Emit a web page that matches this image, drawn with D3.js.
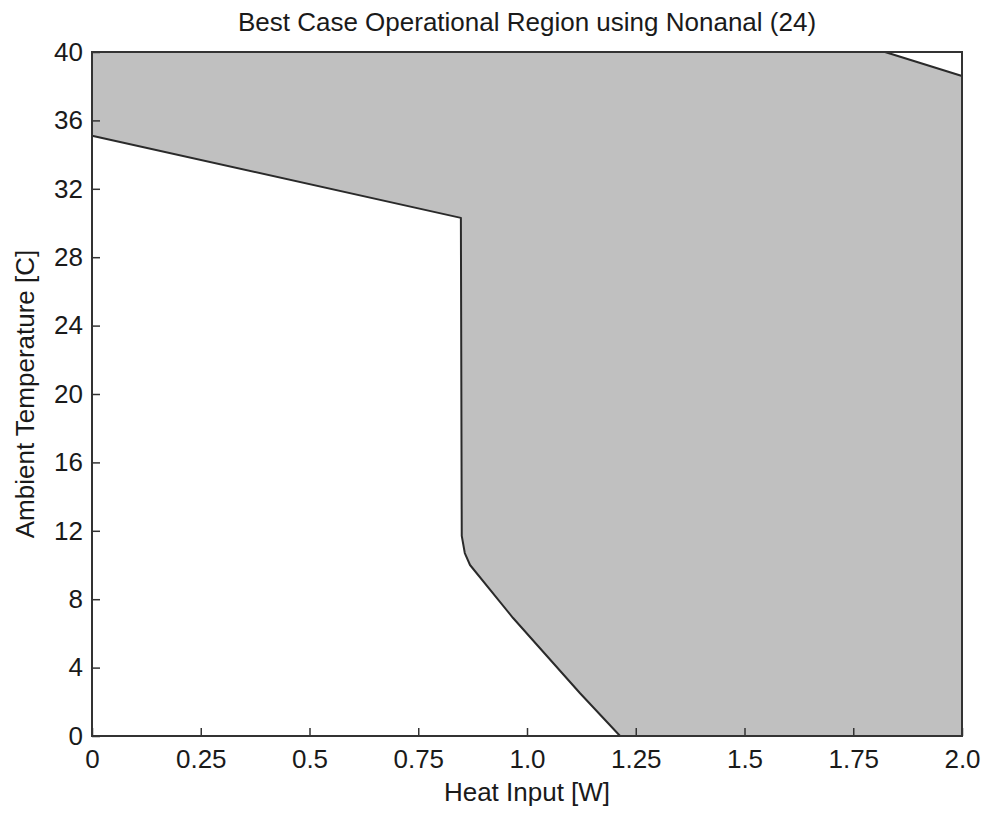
<!DOCTYPE html>
<html>
<head>
<meta charset="utf-8">
<script src="https://cdn.jsdelivr.net/npm/d3@7"></script>
<style>
  html, body { margin: 0; padding: 0; background: #fff; }
  text { font-family: "Liberation Sans", Arial, Helvetica, sans-serif; fill: #1a1a1a; }
</style>
</head>
<body>
<svg id="chart" width="982" height="814"></svg>
<script>
// Data: boundary of the operational region (Heat Input [W], Ambient Temperature [C])
const regionX = [0, 1.823, 2.0, 2.0, 1.214, 1.122, 0.968, 0.869, 0.857, 0.850, 0.848, 0];
const regionY = [40, 40, 38.6, 0, 0, 2.5, 6.9, 10.0, 10.7, 11.7, 30.3, 35.1];
const xTicks = [0, 0.25, 0.5, 0.75, 1.0, 1.25, 1.5, 1.75, 2.0];
const xTickLabels = ["0", "0.25", "0.5", "0.75", "1.0", "1.25", "1.5", "1.75", "2.0"];
const yTicks = [0, 4, 8, 12, 16, 20, 24, 28, 32, 36, 40];
const title = "Best Case Operational Region using Nonanal (24)";
const xLabel = "Heat Input [W]";
const yLabel = "Ambient Temperature [C]";

const svg = d3.select("#chart");
const L = 92, R = 962, T = 52, B = 736;
const x = d3.scaleLinear().domain([0, 2]).range([L, R]);
const y = d3.scaleLinear().domain([0, 40]).range([B, T]);

const pts = regionX.map((v, i) => [x(v), y(regionY[i])]);
svg.append("path")
  .attr("d", d3.line()(pts) + "Z")
  .attr("fill", "#c0c0c0")
  .attr("stroke", "#2a2a2a")
  .attr("stroke-width", 2)
  .attr("stroke-linejoin", "round");

const fontSize = 26;
const xAxis = svg.append("g").attr("transform", `translate(0,${B})`)
  .call(d3.axisBottom(x).tickValues(xTicks).tickFormat((d, i) => xTickLabels[i])
    .tickSizeInner(-8).tickSizeOuter(0).tickPadding(14));
const yAxis = svg.append("g").attr("transform", `translate(${L},0)`)
  .call(d3.axisLeft(y).tickValues(yTicks).tickFormat(d3.format("d"))
    .tickSizeInner(-8).tickSizeOuter(0).tickPadding(9));
[xAxis, yAxis].forEach(g => {
  g.select(".domain").remove();
  g.selectAll(".tick line").attr("stroke", "#333").attr("stroke-width", 1.5);
  g.selectAll(".tick text").attr("font-size", fontSize).attr("fill", "#1a1a1a")
    .attr("font-family", "Liberation Sans, Arial, sans-serif");
});

// box
svg.append("rect").attr("x", L).attr("y", T).attr("width", R - L).attr("height", B - T)
  .attr("fill", "none").attr("stroke", "#333").attr("stroke-width", 2);

svg.append("text").attr("x", (L + R) / 2).attr("y", 31).attr("text-anchor", "middle")
  .attr("font-size", fontSize).text(title);
svg.append("text").attr("x", (L + R) / 2).attr("y", 801).attr("text-anchor", "middle")
  .attr("font-size", fontSize).text(xLabel);
svg.append("text").attr("transform", `translate(34,${(T + B) / 2}) rotate(-90)`)
  .attr("text-anchor", "middle").attr("font-size", fontSize).text(yLabel);
</script>
</body>
</html>
